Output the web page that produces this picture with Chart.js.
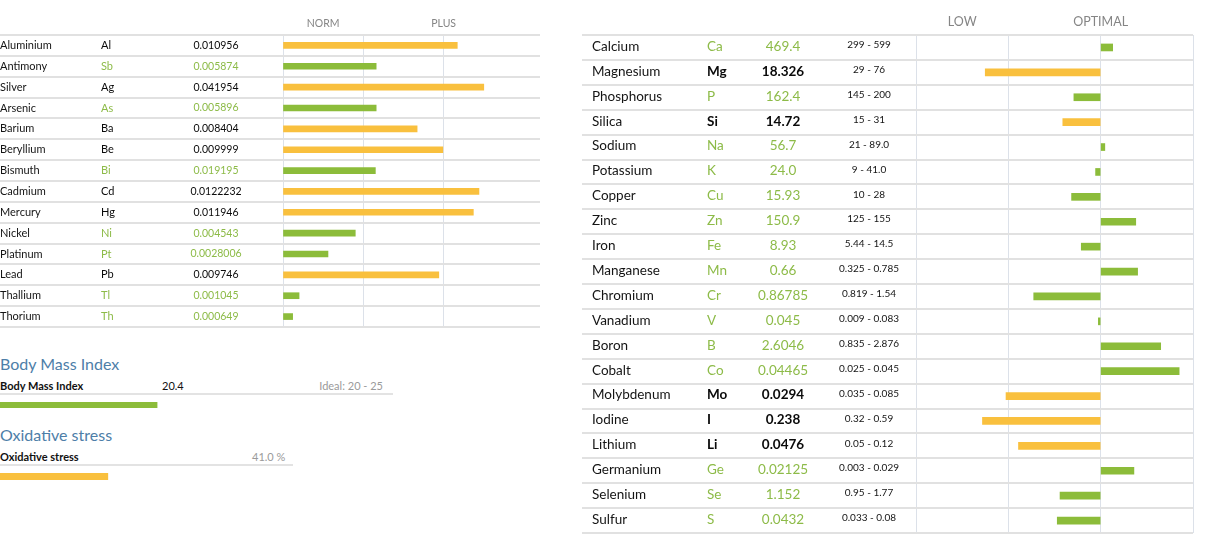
<!DOCTYPE html>
<html>
<head>
<meta charset="utf-8">
<script src="https://cdn.jsdelivr.net/npm/chart.js@4.4.1/dist/chart.umd.min.js"></script>
<style>
  body { margin: 0; background: #fff; font-family: Lato, sans-serif; }
  #wrap { position: relative; width: 1214px; height: 544px; overflow: hidden; }
  canvas { position: absolute; }
  .head { position: absolute; left: 0; font-size: 16px; line-height: 20px; color: #4d7ea8; }
  .row { position: absolute; left: 0; height: 14px; line-height: 14px; font-size: 11px; border-bottom: 2px solid #e3e3e3; }
  .row span { position: absolute; top: 0; white-space: nowrap; }
  .row .lbl { left: 0; font-weight: bold; color: #111; }
  .grey { color: #9a9a9a; }
</style>
</head>
<body>
<div id="wrap">
  <canvas id="heavy" width="545" height="335" style="left:0;top:0"></canvas>
  <canvas id="minerals" width="620" height="540" style="left:580px;top:0"></canvas>

  <div class="head" style="top:354px">Body Mass Index</div>
  <div class="row" style="top:379px;width:393px">
    <span class="lbl">Body Mass Index</span>
    <span id="bmiVal" style="left:162px;color:#111"></span>
    <span id="bmiIdeal" class="grey" style="right:10px"></span>
  </div>
  <canvas id="bmi" width="385" height="6" style="left:0;top:402px"></canvas>

  <div class="head" style="top:425px">Oxidative stress</div>
  <div class="row" style="top:450px;width:293px">
    <span class="lbl">Oxidative stress</span>
    <span id="oxVal" class="grey" style="left:252px"></span>
  </div>
  <canvas id="ox" width="263" height="7" style="left:0;top:473px"></canvas>
</div>
<script>
// heavy metals (left table)
const heavyNames = ['Aluminium', 'Antimony', 'Silver', 'Arsenic', 'Barium', 'Beryllium', 'Bismuth',
  'Cadmium', 'Mercury', 'Nickel', 'Platinum', 'Lead', 'Thallium', 'Thorium'];
const heavySymbols = ['Al', 'Sb', 'Ag', 'As', 'Ba', 'Be', 'Bi', 'Cd', 'Hg', 'Ni', 'Pt', 'Pb', 'Tl', 'Th'];
const heavyValues = ['0.010956', '0.005874', '0.041954', '0.005896', '0.008404', '0.009999', '0.019195',
  '0.0122232', '0.011946', '0.004543', '0.0028006', '0.009746', '0.001045', '0.000649'];
const heavyStatus = ['high', 'ok', 'high', 'ok', 'high', 'high', 'ok', 'high', 'high', 'ok', 'ok', 'high', 'ok', 'ok'];
const heavyBars = [2.17, 1.16, 2.5, 1.16, 1.67, 1.99, 1.15, 2.44, 2.37, 0.9, 0.56, 1.94, 0.2, 0.12];
const heavyTicks = { 0.5: 'NORM', 2: 'PLUS' };

// minerals (right table)
const minNames = ['Calcium', 'Magnesium', 'Phosphorus', 'Silica', 'Sodium', 'Potassium', 'Copper', 'Zinc',
  'Iron', 'Manganese', 'Chromium', 'Vanadium', 'Boron', 'Cobalt', 'Molybdenum', 'Iodine', 'Lithium',
  'Germanium', 'Selenium', 'Sulfur'];
const minSymbols = ['Ca', 'Mg', 'P', 'Si', 'Na', 'K', 'Cu', 'Zn', 'Fe', 'Mn', 'Cr', 'V', 'B', 'Co', 'Mo',
  'I', 'Li', 'Ge', 'Se', 'S'];
const minValues = ['469.4', '18.326', '162.4', '14.72', '56.7', '24.0', '15.93', '150.9', '8.93', '0.66',
  '0.86785', '0.045', '2.6046', '0.04465', '0.0294', '0.238', '0.0476', '0.02125', '1.152', '0.0432'];
const minRanges = ['299 - 599', '29 - 76', '145 - 200', '15 - 31', '21 - 89.0', '9 - 41.0', '10 - 28',
  '125 - 155', '5.44 - 14.5', '0.325 - 0.785', '0.819 - 1.54', '0.009 - 0.083', '0.835 - 2.876',
  '0.025 - 0.045', '0.035 - 0.085', '0.32 - 0.59', '0.05 - 0.12', '0.003 - 0.029', '0.95 - 1.77',
  '0.033 - 0.08'];
const minStatus = ['ok', 'low', 'ok', 'low', 'ok', 'ok', 'ok', 'ok', 'ok', 'ok', 'ok', 'ok', 'ok', 'ok',
  'low', 'low', 'low', 'ok', 'ok', 'ok'];
const minBars = [0.13, -1.25, -0.29, -0.41, 0.045, -0.055, -0.315, 0.38, -0.21, 0.4, -0.725, -0.025,
  0.65, 0.85, -1.025, -1.28, -0.89, 0.36, -0.44, -0.47];
const minTicks = { '-1.5': 'LOW', 0: 'OPTIMAL' };

// bmi + oxidative stress
const bmiValue = 20.4;
const bmiIdeal = 'Ideal: 20 - 25';
const bmiStatus = 'ok';
const oxValue = 41.0;
const oxStatus = 'high';

const FONT = 'Lato, sans-serif';
const YELLOW = '#f9c03e';
const GREEN = '#8cbc3a';
const GREEN_TEXT = '#8dbb48';
const ROW_LINE = '#e1e1e1';
const GRID = '#dce1e9';

function barColors(status) {
  return status.map(s => s === 'ok' ? GREEN : YELLOW);
}

// draws the row separators and the text columns next to the bars, using the y scale
function rowPlugin(cfg) {
  return {
    id: 'rowText',
    beforeDatasetsDraw(chart) {
      const y = chart.scales.y, ctx = chart.ctx;
      const n = chart.data.labels.length;
      const h = (y.bottom - y.top) / n;
      ctx.save();
      ctx.strokeStyle = ROW_LINE;
      ctx.lineWidth = 2;
      for (let i = 0; i <= n; i++) {
        const py = Math.round(i < n ? y.getPixelForValue(i) - h / 2 : y.getPixelForValue(n - 1) + h / 2);
        ctx.beginPath();
        ctx.moveTo(cfg.lineStart, py);
        ctx.lineTo(chart.chartArea.right, py);
        ctx.stroke();
      }
      ctx.restore();
    },
    afterDraw(chart) {
      const y = chart.scales.y, ctx = chart.ctx;
      ctx.save();
      ctx.textBaseline = 'middle';
      cfg.columns.forEach(col => {
        col.texts.forEach((t, i) => {
          const bad = cfg.status[i] !== 'ok';
          let color = col.color || (bad ? '#0a0a0a' : GREEN_TEXT);
          let weight = (bad && col.boldBad) ? 'bold' : 'normal';
          ctx.font = weight + ' ' + col.size + 'px ' + FONT;
          ctx.fillStyle = color;
          ctx.textAlign = col.align;
          ctx.fillText(t, col.x, y.getPixelForValue(i) + col.dy);
        });
      });
      ctx.restore();
    }
  };
}

function tableChart(id, o) {
  return new Chart(document.getElementById(id), {
    type: 'bar',
    data: {
      labels: o.labels,
      datasets: [{
        data: o.bars,
        backgroundColor: barColors(o.status),
        barThickness: o.thickness,
        borderWidth: 0
      }]
    },
    options: {
      responsive: false,
      animation: false,
      indexAxis: 'y',
      layout: { padding: { left: 0, top: 0, right: o.padRight, bottom: o.padBottom } },
      plugins: { legend: { display: false }, tooltip: { enabled: false } },
      scales: {
        x: {
          position: 'top',
          min: o.min,
          max: o.max,
          afterFit: s => { s.height = 35; },
          border: { display: false },
          grid: {
            drawTicks: false,
            lineWidth: 1,
            color: c => (c.tick && Number.isInteger(c.tick.value)) ? GRID : 'rgba(0,0,0,0)'
          },
          ticks: {
            stepSize: 0.5,
            autoSkip: false,
            maxRotation: 0,
            padding: o.tickPad,
            color: '#858585',
            font: { family: FONT, size: o.tickSize },
            callback: v => o.ticks[v] || ''
          }
        },
        y: {
          afterFit: s => { s.width = o.axisWidth; },
          border: { display: false },
          grid: { display: false },
          ticks: { display: false }
        }
      }
    },
    plugins: [rowPlugin(o.plugin)]
  });
}

tableChart('heavy', {
  labels: heavyNames, bars: heavyBars, status: heavyStatus, thickness: 6,
  min: 0, max: 3.2, padRight: 5, padBottom: 8, axisWidth: 283,
  ticks: heavyTicks, tickPad: 5, tickSize: 10.5,
  plugin: {
    lineStart: 0, status: heavyStatus,
    columns: [
      { texts: heavyNames, x: 0, align: 'left', size: 11, dy: 0, color: '#141414' },
      { texts: heavySymbols, x: 101, align: 'left', size: 11, dy: 0 },
      { texts: heavyValues, x: 216, align: 'center', size: 10.5, dy: 0 }
    ]
  }
});

tableChart('minerals', {
  labels: minNames, bars: minBars, status: minStatus, thickness: 7,
  min: -2, max: 1, padRight: 7, padBottom: 7, axisWidth: 336,
  ticks: minTicks, tickPad: 6, tickSize: 12.5,
  plugin: {
    lineStart: 2, status: minStatus,
    columns: [
      { texts: minNames, x: 12, align: 'left', size: 13.5, dy: -1, color: '#141414' },
      { texts: minSymbols, x: 127, align: 'left', size: 13.5, dy: -1, boldBad: true },
      { texts: minValues, x: 203, align: 'center', size: 13.5, dy: -1, boldBad: true },
      { texts: minRanges, x: 289, align: 'center', size: 10, dy: -2.5, color: '#141414' }
    ]
  }
});

function miniBar(id, value, max, status, thickness) {
  return new Chart(document.getElementById(id), {
    type: 'bar',
    data: {
      labels: [''],
      datasets: [{ data: [value], backgroundColor: barColors([status]), barThickness: thickness, borderWidth: 0 }]
    },
    options: {
      responsive: false,
      animation: false,
      indexAxis: 'y',
      plugins: { legend: { display: false }, tooltip: { enabled: false } },
      scales: {
        x: { display: false, min: 0, max: max },
        y: { display: false }
      }
    }
  });
}

document.getElementById('bmiVal').textContent = bmiValue.toFixed(1);
document.getElementById('bmiIdeal').textContent = bmiIdeal;
document.getElementById('oxVal').textContent = oxValue.toFixed(1) + ' %';
miniBar('bmi', bmiValue, 50, bmiStatus, 6);
miniBar('ox', oxValue, 100, oxStatus, 7);
</script>
</body>
</html>
